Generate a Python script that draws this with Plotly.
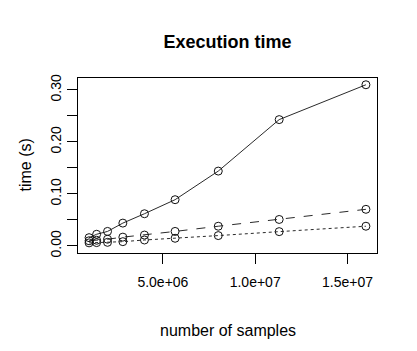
import plotly.graph_objects as go

# Data
n_samples = [1.0e6, 1.41e6, 2.0e6, 2.83e6, 4.0e6, 5.66e6, 8.0e6, 11.3e6, 16.0e6]
time_solid = [0.016, 0.0225, 0.028, 0.044, 0.062, 0.089, 0.144, 0.243, 0.310]
time_dashed = [0.010, 0.011, 0.013, 0.017, 0.021, 0.028, 0.038, 0.051, 0.0705]
time_dotted = [0.006, 0.0065, 0.007, 0.0083, 0.0115, 0.0148, 0.020, 0.0276, 0.038]

x_tickvals = [5e6, 1e7, 1.5e7]
x_ticktext = ["5.0e+06", "1.0e+07", "1.5e+07"]
y_tickvals = [0.0, 0.05, 0.10, 0.15, 0.20, 0.25, 0.30]
y_ticktext = ["0.00", "", "0.10", "", "0.20", "", "0.30"]

FONT = "Liberation Sans, Arial, Helvetica, sans-serif"

fig = go.Figure()
for ys, dash in [(time_solid, "solid"), (time_dashed, "dash"), (time_dotted, "dot")]:
    fig.add_trace(go.Scatter(
        x=n_samples, y=ys, mode="lines+markers",
        line=dict(color="#2a2a2a", width=1, dash=dash),
        marker=dict(symbol="circle-open", size=8, color="#111111",
                    line=dict(width=1, color="#111111")),
        showlegend=False,
    ))

fig.update_layout(
    width=417, height=351,
    margin=dict(l=78, r=40, t=78, b=98),
    paper_bgcolor="white", plot_bgcolor="white",
    font=dict(family=FONT, size=14, color="black"),
    title=dict(text="<b>Execution time</b>", x=0.5, xref="paper",
               y=1 - 42 / 351, yref="container", yanchor="middle",
               xanchor="center", font=dict(size=18, family=FONT)),
    xaxis=dict(range=[0.4e6, 16.6e6], tickvals=x_tickvals, ticktext=x_ticktext,
               ticks="outside", ticklen=10, tickwidth=1, tickcolor="black",
               showline=True, mirror=True, linecolor="black", linewidth=1,
               showgrid=False, zeroline=False, ticklabelstandoff=6,
               tickfont=dict(size=14)),
    yaxis=dict(range=[-0.0135, 0.323], tickvals=y_tickvals, ticktext=y_ticktext,
               ticks="outside", ticklen=10, tickwidth=1, tickcolor="black",
               showline=True, mirror=True, linecolor="black", linewidth=1,
               showgrid=False, zeroline=False, tickangle=-90,
               ticklabelstandoff=0, tickfont=dict(size=14)),
    annotations=[
        dict(text="number of samples", x=0.5, xref="paper", y=0, yref="paper",
             yshift=-77, yanchor="middle", xanchor="center", showarrow=False,
             font=dict(size=16)),
        dict(text="time (s)", x=0, xref="paper", y=0.5, yref="paper",
             xshift=-53, xanchor="center", yanchor="middle", textangle=-90,
             showarrow=False, font=dict(size=16)),
    ],
)

fig.write_html("out.html")
